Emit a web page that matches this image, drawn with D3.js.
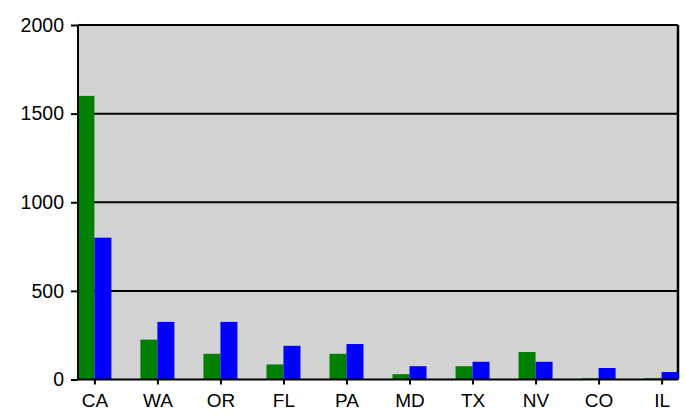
<!DOCTYPE html>
<html>
<head>
<meta charset="utf-8">
<script src="https://d3js.org/d3.v7.min.js"></script>
<style>
  body { margin: 0; background: #fff; }
  text { font-family: "Liberation Sans", Arial, sans-serif; fill: #000; }
</style>
</head>
<body>
<svg id="chart" width="686" height="417"></svg>
<script>
var states = ['CA', 'WA', 'OR', 'FL', 'PA', 'MD', 'TX', 'NV', 'CO', 'IL'];
var greenValues = [1600, 225, 145, 85, 145, 30, 75, 155, 7, 7];
var blueValues = [800, 325, 325, 190, 200, 75, 100, 100, 65, 42];
var yTicks = [0, 500, 1000, 1500, 2000];

var svg = d3.select('#chart'),
    margin = {top: 25, right: 8, bottom: 37.5, left: 78},
    width = +svg.attr('width') - margin.left - margin.right,
    height = +svg.attr('height') - margin.top - margin.bottom;

var g = svg.append('g')
    .attr('transform', 'translate(' + margin.left + ',' + margin.top + ')');

var x = d3.scalePoint()
    .domain(states)
    .range([0, width])
    .padding(0.26);

var y = d3.scaleLinear()
    .domain([0, 2000])
    .range([height, 0]);

var barW = 17;

// plot background
g.append('rect')
    .attr('width', width)
    .attr('height', height)
    .attr('fill', '#d3d3d3');

// grid lines
g.append('g')
    .selectAll('line')
    .data(yTicks.slice(1))
    .enter().append('line')
    .attr('x1', 0)
    .attr('x2', width)
    .attr('y1', function(d) { return y(d); })
    .attr('y2', function(d) { return y(d); })
    .attr('stroke', '#000')
    .attr('stroke-width', 2);

// right border
g.append('line')
    .attr('x1', width).attr('x2', width)
    .attr('y1', 0).attr('y2', height)
    .attr('stroke', '#000')
    .attr('stroke-width', 2.5);

// bars
g.append('g')
    .selectAll('rect')
    .data(greenValues)
    .enter().append('rect')
    .attr('x', function(d, i) { return x(states[i]) - barW; })
    .attr('y', function(d) { return y(d); })
    .attr('width', barW)
    .attr('height', function(d) { return height - y(d); })
    .attr('fill', '#008000');

g.append('g')
    .selectAll('rect')
    .data(blueValues)
    .enter().append('rect')
    .attr('x', function(d, i) { return x(states[i]); })
    .attr('y', function(d) { return y(d); })
    .attr('width', barW)
    .attr('height', function(d) { return height - y(d); })
    .attr('fill', '#0000ff');

// y axis
var yAxis = g.append('g')
    .call(d3.axisLeft(y).tickValues(yTicks).tickFormat(d3.format('d')).tickSize(7).tickPadding(7));
yAxis.selectAll('text').style('font-size', '19.5px');
yAxis.selectAll('line, path').attr('stroke', '#000').attr('stroke-width', 2);
yAxis.select('.domain').attr('d', 'M0,' + height + 'V0');

// x axis
var xAxis = g.append('g')
    .attr('transform', 'translate(0,' + height + ')')
    .call(d3.axisBottom(x).tickSize(5).tickPadding(9));
xAxis.selectAll('text').style('font-size', '19px');
xAxis.selectAll('line, path').attr('stroke', '#000').attr('stroke-width', 2);
xAxis.select('.domain').attr('d', 'M0,0H' + width);
</script>
</body>
</html>
